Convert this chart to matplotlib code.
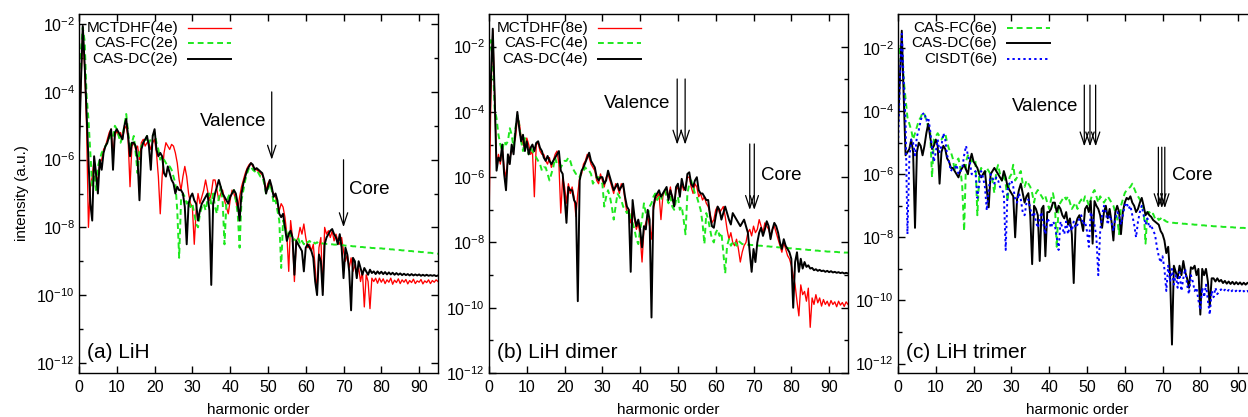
import numpy as np
import matplotlib
matplotlib.use("Agg")
import matplotlib.pyplot as plt
from matplotlib.ticker import NullFormatter

plt.rcParams["font.family"] = ["Liberation Sans", "DejaVu Sans"]
plt.rcParams["font.size"] = 11
plt.rcParams["xtick.labelsize"] = 11.5
plt.rcParams["ytick.labelsize"] = 11.5
plt.rcParams["axes.linewidth"] = 1.0

# harmonic order grid (x axis), shared by every spectrum
harmonic = np.arange(0, 95.5, 0.5)

# log10 of the intensity (10 values per 5 harmonic orders)
# ---- (a) LiH ----
a_mctdhf = [
    -5.5, -3.8, -2.1, -3.3, -5.0, -8.0, -6.8, -6.5, -6.0, -6.5,
    -6.6, -6.1, -6.0, -5.7, -5.6, -5.4, -5.2, -5.1, -5.8, -5.3,
    -5.15, -5.3, -5.2, -5.4, -5.1, -5.0, -5.4, -6.8, -5.6, -5.5,
    -5.7, -5.6, -6.0, -5.5, -5.4, -5.6, -5.5, -5.5, -5.7, -5.5,
    -5.4, -5.8, -6.5, -7.6, -6.5, -5.8, -5.5, -5.6, -5.7, -5.55,
    -5.6, -5.8, -6.1, -6.6, -6.9, -6.5, -6.2, -6.5, -7.0, -7.3,
    -7.4, -8.5, -7.5, -7.0, -7.3, -7.1, -6.9, -6.6, -6.9, -7.2,
    -7.0, -6.6, -6.6, -6.9, -7.2, -7.0, -6.9, -7.2, -7.4, -7.6,
    -7.2, -6.9, -7.0, -7.2, -7.5, -7.1, -6.8, -6.6, -6.4, -6.25,
    -6.15, -6.1, -6.2, -6.25, -6.3, -6.35, -6.4, -6.45, -6.6, -6.9,
    -6.7, -6.6, -6.9, -7.0, -7.1, -7.3, -7.5, -7.3, -7.4, -7.7,
    -8.2, -9.3, -7.8, -8.3, -9.6, -8.4, -8.3, -8.0, -8.2, -7.9,
    -8.3, -8.6, -8.5, -8.7, -8.5, -9.2, -9.9, -8.6, -8.3, -9.9,
    -8.0, -8.2, -8.1, -8.3, -8.1, -8.4, -8.2, -8.4, -8.5, -8.3,
    -8.7, -9.0, -8.8, -9.2, -8.9, -9.3, -9.1, -9.4, -9.2, -9.6,
    -9.3, -10.35, -9.4, -9.6, -10.4, -9.5, -9.6, -9.5, -9.65, -9.5,
    -9.62, -9.52, -9.66, -9.55, -9.62, -9.5, -9.68, -9.56, -9.63, -9.52,
    -9.66, -9.55, -9.62, -9.54, -9.67, -9.57, -9.63, -9.53, -9.66, -9.58,
    -9.62, -9.54, -9.67, -9.58, -9.63, -9.55, -9.66, -9.57, -9.62, -9.55,
    -9.6,
]
a_casfc = [
    -3.6, -2.8, -2.1, -2.5, -4.1, -4.8, -5.8, -6.8, -6.3, -6.9,
    -6.2, -6.0, -5.8, -5.7, -5.6, -5.5, -5.4, -5.2, -5.3, -5.0,
    -5.1, -5.3, -5.5, -5.3, -5.0, -4.65, -5.2, -5.6, -5.5, -5.3,
    -5.8, -6.4, -5.7, -5.6, -5.5, -5.5, -5.3, -5.5, -5.4, -5.3,
    -5.2, -5.5, -5.7, -6.0, -5.9, -6.0, -6.1, -6.2, -6.2, -6.3,
    -6.5, -6.7, -7.5, -8.9, -7.2, -7.0, -7.1, -7.3, -7.2, -7.4,
    -7.3, -7.6, -7.9, -8.0, -7.6, -7.4, -7.3, -7.5, -7.2, -7.0,
    -7.3, -7.0, -7.4, -7.6, -7.1, -6.8, -7.2, -8.5, -7.3, -7.1,
    -7.0, -7.0, -6.9, -7.2, -7.6, -8.6, -7.2, -6.9, -6.6, -6.4,
    -6.25, -6.2, -6.3, -6.35, -6.3, -6.4, -6.5, -6.5, -6.7, -7.0,
    -6.9, -6.7, -6.9, -7.3, -7.2, -7.5, -7.8, -9.2, -7.8, -8.0,
    -8.2, -8.1, -8.3, -8.4, -8.35, -8.4, -8.3, -8.5, -8.4, -8.5,
    -8.4, -8.45, -8.4, -8.47, -8.43, -8.48, -8.44, -8.48, -8.45, -8.48,
    -8.48, -8.49, -8.49, -8.5, -8.5, -8.51, -8.51, -8.52, -8.52, -8.53,
    -8.53, -8.54, -8.54, -8.55, -8.55, -8.56, -8.56, -8.57, -8.57, -8.58,
    -8.58, -8.59, -8.59, -8.6, -8.6, -8.61, -8.61, -8.62, -8.62, -8.62,
    -8.62, -8.63, -8.63, -8.64, -8.64, -8.65, -8.65, -8.66, -8.66, -8.67,
    -8.67, -8.68, -8.68, -8.69, -8.69, -8.7, -8.7, -8.71, -8.71, -8.72,
    -8.72, -8.73, -8.73, -8.74, -8.74, -8.75, -8.75, -8.76, -8.77, -8.77,
    -8.78,
]
a_casdc = [
    -5.8, -3.8, -2.05, -3.2, -4.6, -6.0, -7.3, -7.8, -5.9, -6.4,
    -7.0, -6.0, -6.3, -5.8, -5.6, -5.5, -5.3, -5.1, -6.3, -5.2,
    -5.1, -5.2, -5.3, -5.4, -5.0, -4.8, -5.3, -5.9, -5.5, -5.5,
    -5.6, -6.0, -7.2, -5.7, -5.5, -5.4, -5.3, -5.6, -6.3, -5.3,
    -5.1, -5.7, -5.9, -5.8, -5.9, -6.4, -6.5, -6.2, -6.4, -6.6,
    -6.7, -7.0, -6.8, -6.9, -6.9, -7.0, -7.4, -8.5, -7.3, -7.1,
    -7.0, -7.2, -7.3, -7.8, -7.5, -7.3, -7.2, -7.1, -7.0, -7.5,
    -9.7, -7.3, -7.0, -6.8, -6.6, -6.8, -7.0, -7.1, -7.2, -7.3,
    -7.1, -7.0, -6.9, -7.0, -7.3, -7.8, -7.0, -6.7, -6.5, -6.3,
    -6.2, -6.1, -6.15, -6.3, -6.25, -6.3, -6.35, -6.4, -6.6, -7.0,
    -6.8, -6.6, -6.8, -7.1, -7.0, -7.2, -7.6, -7.7, -7.6, -8.0,
    -8.4, -8.2, -8.1, -8.3, -9.4, -8.4, -8.5, -8.6, -8.7, -9.3,
    -8.6, -8.5, -8.6, -8.7, -8.9, -9.6, -10.0, -8.8, -9.0, -10.0,
    -8.5, -8.3, -8.2, -8.1, -8.05, -8.2, -8.3, -8.5, -8.2, -8.6,
    -9.5, -8.6, -8.8, -9.3, -10.45, -8.9, -9.0, -9.5, -9.0, -9.2,
    -9.4, -9.2, -9.3, -9.4, -9.25, -9.35, -9.3, -9.38, -9.3, -9.37,
    -9.31, -9.38, -9.32, -9.39, -9.33, -9.39, -9.34, -9.4, -9.35, -9.4,
    -9.36, -9.41, -9.37, -9.41, -9.38, -9.42, -9.38, -9.42, -9.39, -9.42,
    -9.39, -9.43, -9.4, -9.43, -9.4, -9.43, -9.41, -9.43, -9.41, -9.44,
    -9.42,
]

# ---- (b) LiH dimer ----
b_mctdhf = [
    -7.5, -3.5, -1.5, -3.6, -5.6, -5.3, -5.6, -5.1, -5.7, -6.0,
    -5.5, -5.4, -5.2, -5.0, -4.8, -4.2, -4.3, -4.8, -5.0, -5.1,
    -4.8, -5.0, -5.3, -5.2, -6.6, -5.0, -4.95, -5.2, -5.3, -5.3,
    -5.5, -5.6, -5.4, -5.7, -5.5, -5.3, -5.2, -5.6, -7.1, -6.0,
    -6.3, -6.8, -6.2, -6.5, -6.3, -6.6, -7.2, -6.5, -6.0, -5.9,
    -5.6, -5.5, -5.3, -5.4, -5.6, -5.7, -5.8, -6.1, -6.2, -5.9,
    -6.1, -6.3, -6.0, -5.9, -6.1, -6.3, -6.5, -6.2, -6.3, -6.5,
    -6.2, -6.3, -6.7, -7.1, -7.0, -7.4, -6.9, -7.3, -7.6, -7.4,
    -7.8, -8.6, -7.6, -7.4, -7.2, -7.5, -7.9, -7.0, -6.7, -6.6,
    -6.5, -7.3, -6.6, -6.4, -6.5, -6.6, -6.3, -6.7, -6.8, -6.4,
    -6.3, -6.5, -6.2, -6.4, -6.3, -6.0, -6.0, -6.3, -6.5, -6.2,
    -6.3, -6.6, -6.5, -6.7, -6.6, -6.8, -6.9, -7.1, -7.4, -7.3,
    -7.0, -6.9, -7.1, -7.0, -6.9, -7.2, -7.6, -7.9, -7.7, -8.0,
    -8.1, -7.9, -8.2, -8.6, -8.3, -8.1, -8.0, -7.7, -7.6, -7.8,
    -7.5, -7.7, -7.6, -7.3, -7.5, -7.7, -7.4, -7.5, -7.6, -7.8,
    -7.6, -7.5, -7.7, -7.9, -8.1, -8.3, -8.0, -8.2, -8.4, -8.5,
    -8.7, -9.0, -9.3, -9.8, -10.25, -9.3, -9.6, -9.5, -9.8, -9.4,
    -10.6, -9.7, -9.9, -9.6, -9.85, -9.7, -9.95, -9.75, -9.9, -9.8,
    -9.95, -9.78, -9.9, -9.82, -9.97, -9.8, -9.92, -9.84, -9.96, -9.82,
    -9.9,
]
b_casfc = [
    -2.2, -1.8, -2.4, -3.9, -4.2, -4.7, -5.0, -5.2, -4.9, -5.0,
    -4.9, -4.5, -4.7, -5.1, -4.5, -4.1, -4.4, -4.9, -5.2, -4.8,
    -5.0, -5.3, -5.1, -5.2, -5.3, -5.4, -5.5, -5.6, -5.8, -5.7,
    -5.7, -5.9, -6.1, -5.9, -5.7, -5.4, -5.6, -5.6, -5.7, -5.6,
    -5.5, -5.5, -5.4, -5.5, -5.7, -5.8, -5.9, -5.9, -6.0, -5.8,
    -5.8, -5.7, -5.8, -5.8, -5.9, -6.2, -6.1, -6.0, -6.0, -6.1,
    -6.2, -6.9, -6.6, -6.4, -6.6, -6.9, -7.3, -6.9, -6.5, -6.6,
    -6.7, -6.9, -7.0, -7.1, -7.0, -7.3, -7.4, -7.6, -7.9, -8.05,
    -7.6, -7.3, -6.8, -7.1, -7.2, -6.9, -6.8, -6.6, -6.5, -6.7,
    -6.6, -6.7, -6.5, -6.4, -6.6, -6.8, -6.6, -6.9, -7.0, -6.7,
    -6.6, -7.0, -6.9, -7.3, -7.75, -6.5, -6.2, -6.1, -6.3, -6.5,
    -6.6, -6.8, -7.0, -7.4, -8.05, -7.1, -7.3, -7.6, -7.9, -8.0,
    -7.7, -7.6, -7.8, -7.7, -8.3, -8.95, -8.1, -7.9, -8.1, -8.0,
    -7.95, -8.1, -7.95, -8.0, -8.05, -8.05, -8.06, -8.07, -8.07, -8.08,
    -8.08, -8.09, -8.09, -8.1, -8.1, -8.11, -8.11, -8.12, -8.12, -8.13,
    -8.13, -8.14, -8.14, -8.15, -8.15, -8.16, -8.16, -8.17, -8.17, -8.18,
    -8.18, -8.19, -8.19, -8.2, -8.2, -8.21, -8.21, -8.22, -8.22, -8.23,
    -8.23, -8.24, -8.24, -8.25, -8.25, -8.26, -8.26, -8.27, -8.27, -8.28,
    -8.28, -8.28, -8.29, -8.29, -8.29, -8.3, -8.3, -8.3, -8.31, -8.31,
    -8.31,
]
b_casdc = [
    -5.0, -3.0, -1.45, -3.5, -5.8, -5.4, -5.5, -5.0, -5.9, -6.4,
    -5.3, -5.6, -5.0, -5.3, -4.6, -4.0, -4.5, -4.9, -4.7, -5.2,
    -4.9, -5.3, -5.1, -5.0, -5.2, -4.95, -4.9, -5.1, -5.2, -5.4,
    -5.5, -5.35, -5.5, -5.6, -5.5, -5.4, -5.3, -5.2, -5.8, -5.9,
    -6.6, -7.4, -6.3, -6.4, -6.4, -6.7, -6.8, -9.8, -6.1, -5.8,
    -5.7, -5.55, -5.4, -5.25, -5.5, -5.6, -5.7, -6.0, -6.1, -6.0,
    -6.0, -6.2, -6.1, -5.8, -6.0, -6.2, -6.4, -6.3, -6.2, -6.4,
    -6.3, -6.2, -6.6, -6.9, -7.0, -8.9, -6.7, -7.2, -7.5, -7.3,
    -7.6, -8.15, -7.5, -7.6, -7.0, -7.3, -10.3, -6.9, -6.6, -6.5,
    -6.4, -6.6, -6.5, -6.4, -6.3, -6.7, -6.4, -6.6, -6.9, -6.3,
    -6.2, -6.6, -6.05, -6.3, -6.4, -5.9, -5.85, -6.2, -6.3, -6.1,
    -6.0, -6.4, -6.5, -6.5, -6.6, -6.7, -6.7, -7.2, -7.5, -7.55,
    -7.2, -6.9, -7.0, -7.3, -7.1, -6.9, -7.1, -7.3, -7.45, -7.1,
    -7.2, -7.3, -7.4, -7.5, -7.4, -7.3, -7.5, -7.7, -8.3, -8.9,
    -8.2, -8.6, -8.0, -7.7, -7.55, -7.8, -7.6, -7.35, -7.5, -7.9,
    -7.6, -7.4, -7.5, -7.7, -8.0, -8.2, -7.9, -8.1, -8.2, -8.3,
    -8.5, -10.0, -8.6, -8.3, -8.9, -8.5, -8.8, -8.6, -8.75, -8.7,
    -8.8, -8.78, -8.85, -8.82, -8.87, -8.84, -8.88, -8.86, -8.9, -8.87,
    -8.91, -8.88, -8.92, -8.9, -8.93, -8.91, -8.94, -8.92, -8.95, -8.93,
    -8.95,
]

# ---- (c) LiH trimer ----
c_casfc = [
    -2.5, -1.9, -2.0, -3.0, -3.6, -4.2, -4.4, -4.6, -4.9, -4.7,
    -4.5, -4.3, -4.2, -4.05, -4.1, -4.3, -4.5, -4.6, -6.1, -4.9,
    -4.8, -4.7, -4.8, -4.9, -4.8, -4.7, -5.0, -5.2, -5.3, -5.5,
    -5.9, -5.6, -5.5, -5.8, -6.4, -7.8, -5.6, -5.4, -5.5, -5.6,
    -5.5, -5.6, -7.3, -6.0, -5.8, -5.9, -6.0, -5.8, -5.9, -6.0,
    -6.2, -6.6, -5.9, -5.7, -6.0, -6.2, -6.0, -6.3, -6.85, -6.1,
    -6.0, -5.7, -6.2, -6.1, -6.0, -5.9, -6.3, -6.4, -6.2, -6.3,
    -6.4, -6.6, -6.9, -6.6, -6.5, -6.6, -6.7, -6.8, -6.7, -6.9,
    -7.1, -6.8, -6.6, -6.9, -8.3, -7.0, -6.9, -6.8, -6.7, -6.8,
    -6.7, -6.9, -7.1, -7.0, -6.9, -7.1, -6.9, -6.8, -6.9, -6.7,
    -6.8, -7.0, -6.8, -6.6, -6.5, -6.7, -6.9, -6.7, -6.8, -6.9,
    -6.8, -6.7, -6.8, -6.9, -7.0, -7.2, -7.4, -7.9, -7.0, -6.8,
    -6.6, -6.5, -6.45, -6.4, -6.3, -6.45, -6.6, -6.7, -6.8, -6.9,
    -7.1, -8.2, -7.2, -7.2, -7.3, -7.25, -7.4, -7.35, -7.45, -7.4,
    -7.5, -7.45, -7.5, -7.52, -7.53, -7.54, -7.54, -7.55, -7.55, -7.56,
    -7.56, -7.57, -7.57, -7.58, -7.58, -7.59, -7.59, -7.6, -7.6, -7.61,
    -7.61, -7.62, -7.62, -7.63, -7.63, -7.64, -7.64, -7.65, -7.65, -7.66,
    -7.66, -7.66, -7.67, -7.67, -7.67, -7.68, -7.68, -7.68, -7.69, -7.69,
    -7.69, -7.7, -7.7, -7.7, -7.71, -7.71, -7.71, -7.72, -7.72, -7.72,
    -7.73,
]
c_casdc = [
    -4.5, -3.0, -1.45, -3.5, -5.4, -5.3, -5.2, -4.9, -5.3, -7.7,
    -5.3, -5.0, -5.1, -5.4, -5.1, -4.7, -4.4, -4.8, -5.2, -5.1,
    -4.9, -5.1, -6.3, -5.3, -5.1, -5.2, -5.5, -5.6, -5.8, -5.8,
    -5.9, -6.0, -6.1, -5.9, -5.8, -5.7, -5.85, -6.0, -5.6, -5.35,
    -5.6, -5.7, -5.8, -6.0, -6.1, -6.0, -5.9, -6.5, -7.05, -6.0,
    -5.9, -5.8, -5.9, -6.0, -6.1, -6.2, -5.9, -6.1, -6.4, -6.5,
    -6.6, -6.7, -8.0, -6.8, -6.5, -6.3, -6.6, -6.9, -6.7, -6.6,
    -7.3, -8.85, -7.0, -7.1, -7.3, -8.75, -7.1, -7.0, -8.6, -7.2,
    -7.2, -7.1, -6.9, -6.9, -7.2, -7.0, -7.1, -7.3, -7.4, -7.2,
    -7.6, -7.4, -7.9, -9.45, -7.6, -7.4, -7.3, -7.5, -7.8, -7.1,
    -7.0, -7.2, -6.85, -8.2, -6.85, -7.0, -7.1, -7.3, -7.7, -7.2,
    -7.0, -7.4, -7.1, -7.5, -8.1, -7.2, -7.0, -7.2, -7.9, -7.2,
    -6.9, -6.75, -6.8, -6.7, -6.9, -7.0, -7.2, -7.1, -6.9, -6.75,
    -7.0, -7.3, -7.2, -7.3, -7.35, -7.45, -7.5, -7.55, -7.6, -7.8,
    -7.9, -8.1, -8.5, -8.3, -9.2, -11.4, -8.9, -9.1, -9.3, -8.9,
    -9.2, -8.75, -9.1, -9.3, -9.6, -8.95, -9.0, -8.9, -9.2, -9.0,
    -10.45, -9.0, -9.2, -9.0, -9.4, -10.2, -9.3, -9.3, -9.4, -9.3,
    -9.4, -9.35, -9.45, -9.38, -9.47, -9.4, -9.48, -9.41, -9.49, -9.42,
    -9.49, -9.43, -9.5, -9.44, -9.5, -9.44, -9.5, -9.45, -9.5, -9.45,
    -9.47,
]
c_cisdt = [
    -5.2, -3.0, -1.55, -3.0, -4.3, -7.9, -5.5, -4.9, -5.0, -5.4,
    -4.8, -4.6, -4.3, -4.1, -4.05, -4.3, -4.2, -4.6, -5.15, -5.6,
    -5.3, -4.9, -5.3, -5.1, -4.7, -4.9, -5.4, -5.6, -5.9, -5.8,
    -5.8, -5.7, -6.0, -5.9, -5.8, -5.4, -5.1, -5.4, -5.6, -6.0,
    -6.0, -5.9, -6.75, -6.3, -5.9, -6.1, -6.4, -7.15, -6.5, -6.0,
    -6.1, -6.3, -6.1, -6.2, -6.4, -6.5, -6.6, -8.4, -6.5, -6.3,
    -6.2, -6.4, -6.8, -6.9, -6.6, -6.8, -7.2, -7.3, -6.9, -6.8,
    -7.1, -7.3, -7.2, -7.5, -7.7, -7.4, -7.2, -7.6, -7.9, -7.4,
    -7.5, -7.7, -7.5, -7.6, -8.0, -8.4, -7.5, -7.7, -7.9, -7.5,
    -7.9, -7.6, -7.8, -7.5, -7.7, -7.6, -7.4, -7.3, -7.6, -7.5,
    -7.8, -8.3, -7.2, -7.4, -7.6, -8.0, -9.2, -7.8, -7.3, -7.0,
    -7.2, -7.6, -7.3, -7.5, -7.8, -7.4, -7.2, -7.3, -7.6, -7.3,
    -7.0, -6.9, -7.1, -7.0, -7.3, -7.6, -8.0, -7.5, -7.2, -7.0,
    -7.3, -7.6, -7.4, -7.7, -7.6, -7.8, -7.9, -8.3, -8.6, -8.8,
    -8.6, -9.0, -9.7, -8.9, -9.4, -9.0, -9.5, -9.2, -9.6, -9.1,
    -9.7, -9.3, -9.0, -9.5, -9.8, -9.2, -9.4, -9.7, -9.6, -10.0,
    -10.3, -9.6, -9.9, -9.5, -10.0, -10.45, -9.7, -9.9, -9.6, -9.8,
    -9.7, -9.65, -9.72, -9.66, -9.73, -9.67, -9.74, -9.68, -9.74, -9.69,
    -9.75, -9.69, -9.75, -9.7, -9.75, -9.7, -9.76, -9.71, -9.76, -9.71,
    -9.75,
]

# cutoff markers (harmonic orders of the arrows)
a_valence = [51.0]
a_core = [70.0]
b_valence = [49.8, 51.9]
b_core = [69.0, 70.2]
c_valence = [49.3, 50.8, 52.3]
c_core = [68.9, 69.8, 70.6]

RED = "#ff0000"
GREEN = "#1ee81e"
BLUE = "#0000ff"

style_mc = dict(color=RED, lw=0.95)
style_fc = dict(color=GREEN, lw=1.4, linestyle=(0, (3, 2)))
style_dc = dict(color="black", lw=1.4)
style_ci = dict(color=BLUE, lw=1.4, linestyle=(0, (1.2, 1.6)))


def setup_axes(ax, ylim):
    ax.set_yscale("log")
    ax.set_xlim(0, 95)
    ax.set_ylim(*ylim)
    ax.set_xticks(range(0, 100, 10))
    ax.set_yticks([1e-12, 1e-10, 1e-8, 1e-6, 1e-4, 1e-2])
    ax.set_yticks([1e-11, 1e-9, 1e-7, 1e-5, 1e-3], minor=True)
    ax.yaxis.set_minor_formatter(NullFormatter())
    ax.tick_params(which="both", direction="in", top=True, right=True, width=1.0)
    ax.tick_params(which="major", length=5)
    ax.tick_params(which="minor", length=3)
    ax.tick_params(axis="y", pad=3)
    ax.tick_params(axis="x", pad=5)
    ax.set_xlabel("harmonic order", labelpad=6)


def draw_key(ax, entries):
    rows = [0.961, 0.919, 0.875]
    for row, (label, style) in zip(rows, entries):
        ax.text(0.2758, row, label, transform=ax.transAxes, ha="right", va="center")
        ax.plot([0.3036, 0.4234], [row, row], transform=ax.transAxes, **style)


def draw_arrows(ax, xs, y_top, y_tip):
    for x in xs:
        ax.annotate("", xy=(x, y_tip), xytext=(x, y_top),
                    xycoords=ax.get_xaxis_transform(), textcoords=ax.get_xaxis_transform(),
                    arrowprops=dict(arrowstyle="->,head_length=0.9,head_width=0.3",
                                    lw=0.9, color="black", shrinkA=0, shrinkB=0,
                                    mutation_scale=10))


fig = plt.figure(figsize=(12.48, 4.17), dpi=100)
bottom, height, width = 1 - 373 / 417, 359 / 417, 359 / 1248
ax_a = fig.add_axes([79 / 1248, bottom, width, height])
ax_b = fig.add_axes([489 / 1248, bottom, width, height])
ax_c = fig.add_axes([898 / 1248, bottom, width, height])

# (a) LiH
ax = ax_a
ax.plot(harmonic, 10 ** np.array(a_mctdhf), **style_mc)
ax.plot(harmonic, 10 ** np.array(a_casfc), **style_fc)
ax.plot(harmonic, 10 ** np.array(a_casdc), **style_dc)
setup_axes(ax, (5e-13, 2e-2))
ax.set_ylabel("intensity (a.u.)", labelpad=5)
draw_key(ax, [("MCTDHF(4e)", style_mc), ("CAS-FC(2e)", style_fc), ("CAS-DC(2e)", style_dc)])
draw_arrows(ax, a_valence, 0.783, 0.594)
draw_arrows(ax, a_core, 0.594, 0.406)
ax.text(49.6, 0.701, "Valence", transform=ax.get_xaxis_transform(), ha="right", va="center", fontsize=13.5)
ax.text(71.4, 0.512, "Core", transform=ax.get_xaxis_transform(), ha="left", va="center", fontsize=13.5)
ax.text(0.022, 0.056, "(a) LiH", transform=ax.transAxes, fontsize=15, va="center")

# (b) LiH dimer
ax = ax_b
ax.plot(harmonic, 10 ** np.array(b_mctdhf), **style_mc)
ax.plot(harmonic, 10 ** np.array(b_casfc), **style_fc)
ax.plot(harmonic, 10 ** np.array(b_casdc), **style_dc)
setup_axes(ax, (1e-12, 1e-1))
draw_key(ax, [("MCTDHF(8e)", style_mc), ("CAS-FC(4e)", style_fc), ("CAS-DC(4e)", style_dc)])
draw_arrows(ax, b_valence, 0.819, 0.636)
draw_arrows(ax, b_core, 0.638, 0.454)
ax.text(47.9, 0.751, "Valence", transform=ax.get_xaxis_transform(), ha="right", va="center", fontsize=13.5)
ax.text(72.1, 0.55, "Core", transform=ax.get_xaxis_transform(), ha="left", va="center", fontsize=13.5)
ax.text(0.022, 0.056, "(b) LiH dimer", transform=ax.transAxes, fontsize=15, va="center")

# (c) LiH trimer
ax = ax_c
ax.plot(harmonic, 10 ** np.array(c_casfc), **style_fc)
ax.plot(harmonic, 10 ** np.array(c_casdc), **style_dc)
ax.plot(harmonic, 10 ** np.array(c_cisdt), **style_ci)
setup_axes(ax, (5e-13, 1.2e-1))
draw_key(ax, [("CAS-FC(6e)", style_fc), ("CAS-DC(6e)", style_dc), ("CISDT(6e)", style_ci)])
draw_arrows(ax, c_valence, 0.802, 0.631)
draw_arrows(ax, c_core, 0.629, 0.459)
ax.text(47.7, 0.742, "Valence", transform=ax.get_xaxis_transform(), ha="right", va="center", fontsize=13.5)
ax.text(72.4, 0.55, "Core", transform=ax.get_xaxis_transform(), ha="left", va="center", fontsize=13.5)
ax.text(0.022, 0.056, "(c) LiH trimer", transform=ax.transAxes, fontsize=15, va="center")

fig.savefig("out.png", dpi=100, facecolor="white")
